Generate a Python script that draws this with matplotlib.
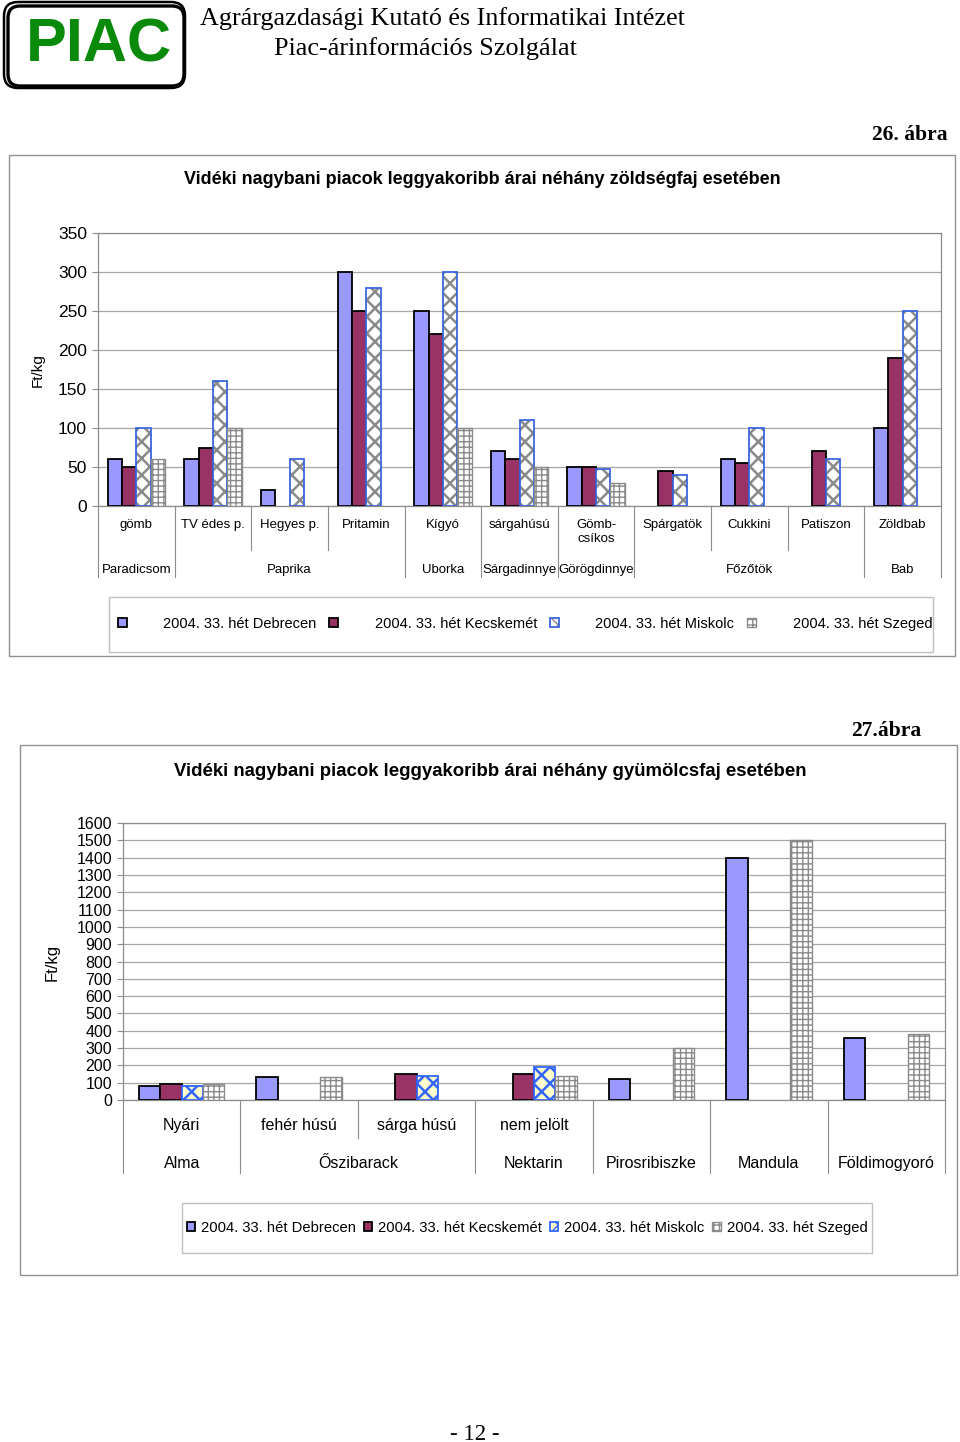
import numpy as np
import matplotlib
matplotlib.use("Agg")
import matplotlib.pyplot as plt
from matplotlib.patches import Rectangle, FancyBboxPatch
from matplotlib.transforms import blended_transform_factory

plt.rcParams['font.family'] = ['Liberation Sans', 'DejaVu Sans']
nan = np.nan

# --- 26. ábra: zöldségek ---
veg_sub = ['gömb', 'TV édes p.', 'Hegyes p.', 'Pritamin', 'Kígyó', 'sárgahúsú',
           'Gömb-\ncsíkos', 'Spárgatök', 'Cukkini', 'Patiszon', 'Zöldbab']
veg_group_names = ['Paradicsom', 'Paprika', 'Uborka', 'Sárgadinnye', 'Görögdinnye', 'Főzőtök', 'Bab']
veg_group_sizes = [1, 3, 1, 1, 1, 3, 1]
veg_debrecen = [60, 60, 20, 300, 250, 70, 50, nan, 60, nan, 100]
veg_kecskemet = [50, 75, nan, 250, 220, 60, 50, 45, 55, 70, 190]
veg_miskolc = [100, 160, 60, 280, 300, 110, 48, 40, 100, 60, 250]
veg_szeged = [60, 100, nan, nan, 100, 50, 30, nan, nan, nan, nan]
veg_yticks = [0, 50, 100, 150, 200, 250, 300, 350]

# --- 27. ábra: gyümölcsök ---
fruit_sub = ['Nyári', 'fehér húsú', 'sárga húsú', 'nem jelölt', '', '', '']
fruit_group_names = ['Alma', 'Őszibarack', 'Nektarin', 'Pirosribiszke', 'Mandula', 'Földimogyoró']
fruit_group_sizes = [1, 2, 1, 1, 1, 1]
fruit_debrecen = [80, 130, nan, nan, 120, 1400, 360]
fruit_kecskemet = [95, nan, 150, 150, nan, nan, nan]
fruit_miskolc = [80, nan, 140, 190, nan, nan, nan]
fruit_szeged = [90, 130, nan, 140, 300, 1500, 380]
fruit_yticks = list(range(0, 1700, 100))

series_names = ['2004. 33. hét Debrecen', '2004. 33. hét Kecskemét',
                '2004. 33. hét Miskolc', '2004. 33. hét Szeged']

W, H = 960, 1442
GRID = '#A6A6A6'
AXC = '#8C8C8C'


def px_axes(fig, left, top, right, bottom):
    return fig.add_axes([left / W, 1 - bottom / H, (right - left) / W, (bottom - top) / H])


def hatched_bar(ax, pos, vals, w, st):
    # fill + hatch first, then the outline in its own colour
    with plt.rc_context({'hatch.linewidth': st.get('hlw', 1.0)}):
        b1 = ax.bar(pos, vals, w, color=st['face'], edgecolor=st['hatchcolor'],
                    hatch=st['hatch'], linewidth=0, zorder=3)
        for p in b1:
            if hasattr(p, 'set_hatch_linewidth'):
                p.set_hatch_linewidth(st.get('hlw', 1.0))
    b2 = ax.bar(pos, vals, w, fill=False, edgecolor=st['edge'],
                linewidth=st['lw'], zorder=4)
    return b1, b2


def draw_chart(ax, series, styles, sub, group_sizes, group_names, yticks,
               gapfrac, tick_fs, label_fs, sub_y, grp_y, short_depth, long_depth):
    n = len(sub)
    w = 1.0 / (4 + gapfrac)
    x = np.arange(n)
    handles = []
    for i, (vals, st) in enumerate(zip(series, styles)):
        pos = x + (i - 1.5) * w
        vals = np.array(vals, dtype=float)
        if st.get('hatch'):
            handles.append(hatched_bar(ax, pos, vals, w, st))
        else:
            b = ax.bar(pos, vals, w, color=st['face'], edgecolor=st['edge'],
                       linewidth=st['lw'], zorder=3)
            handles.append(b)

    ax.set_xlim(-0.5, n - 0.5)
    ax.set_ylim(yticks[0], yticks[-1])
    ax.set_yticks(yticks)
    ax.set_xticks([])
    ax.grid(axis='y', color=GRID, linewidth=0.9, zorder=0)
    ax.set_axisbelow(True)
    for s in ax.spines.values():
        s.set_color(AXC)
        s.set_linewidth(0.9)
    ax.tick_params(axis='y', length=4, width=0.8, color=AXC, labelsize=tick_fs, pad=4)

    tr = blended_transform_factory(ax.transData, ax.transAxes)
    bounds = np.concatenate([[0], np.cumsum(group_sizes)])
    for b in range(n + 1):
        depth = long_depth if b in bounds else short_depth
        ax.plot([b - 0.5, b - 0.5], [0, -depth], transform=tr, clip_on=False,
                color=AXC, linewidth=0.8)
    for i, lab in enumerate(sub):
        if lab:
            ax.text(i, sub_y, lab, transform=tr, ha='center', va='top',
                    fontsize=label_fs, linespacing=1.25)
    for gi, name in enumerate(group_names):
        c = (bounds[gi] + bounds[gi + 1] - 1) / 2
        ax.text(c, grp_y, name, transform=tr, ha='center', va='center', fontsize=label_fs)
    return handles


fig = plt.figure(figsize=(W / 100, H / 100), dpi=100)
fig.patch.set_facecolor('white')

# overlay in pixel coordinates
ov = fig.add_axes([0, 0, 1, 1])
ov.set_xlim(0, W)
ov.set_ylim(H, 0)
ov.axis('off')
ov.patch.set_alpha(0)

# header logo
ov.add_patch(FancyBboxPatch((8, 6), 176, 80, boxstyle='round,pad=0,rounding_size=12',
                            fill=False, edgecolor='black', linewidth=2.4))
ov.add_patch(FancyBboxPatch((4, 2), 181, 86, boxstyle='round,pad=0,rounding_size=14',
                            fill=False, edgecolor='black', linewidth=1.8))
ov.text(99, 46, 'PIAC', color='#0A8A0A', fontsize=44, fontweight='bold',
        ha='center', va='center', family='Liberation Sans')
ov.text(200, 19, 'Agrárgazdasági Kutató és Informatikai Intézet', fontsize=18.8,
        family='Liberation Serif', ha='left', va='center')
ov.text(425, 49, 'Piac-árinformációs Szolgálat', fontsize=18.8,
        family='Liberation Serif', ha='center', va='center')

# chart frames
ov.add_patch(Rectangle((9, 155), 946, 501, fill=False, edgecolor='#909090', linewidth=1))
ov.add_patch(Rectangle((20, 745), 937, 530, fill=False, edgecolor='#909090', linewidth=1))
ov.add_patch(Rectangle((109, 597), 824, 55, fill=False, edgecolor='#C0C0C0', linewidth=1))
ov.add_patch(Rectangle((182, 1203), 690, 50, fill=False, edgecolor='#C0C0C0', linewidth=1))

ov.text(910, 135, '26. ábra', fontsize=15.5, fontweight='bold', family='Liberation Serif',
        ha='center', va='center')
ov.text(886, 731, '27.ábra', fontsize=15.5, fontweight='bold', family='Liberation Serif',
        ha='center', va='center')
ov.text(482, 180, 'Vidéki nagybani piacok leggyakoribb árai néhány zöldségfaj esetében',
        fontsize=13, fontweight='bold', ha='center', va='center')
ov.text(490, 771, 'Vidéki nagybani piacok leggyakoribb árai néhány gyümölcsfaj esetében',
        fontsize=13.4, fontweight='bold', ha='center', va='center')
ov.text(38, 370, 'Ft/kg', rotation=90, fontsize=11, ha='center', va='center')
ov.text(52, 962, 'Ft/kg', rotation=90, fontsize=12, ha='center', va='center')
ov.text(475, 1434, '- 12 -', fontsize=16.5, family='Liberation Serif', ha='center', va='center')

ax1 = px_axes(fig, 98, 233, 941, 506)
ax2 = px_axes(fig, 123, 823, 945, 1100)

styles1 = [
    dict(face='#9999FF', edge='black', lw=1.3),
    dict(face='#993366', edge='black', lw=1.3),
    dict(face='white', hatch='xx', hatchcolor='#8A8A8A', hlw=1.8, edge='#3A66DD', lw=1.3),
    dict(face='white', hatch='+++', hatchcolor='#8A8A8A', hlw=1.0, edge='#8A8A8A', lw=1.0),
]
styles2 = [
    dict(face='#9999FF', edge='black', lw=1.3),
    dict(face='#993366', edge='black', lw=1.3),
    dict(face='#FFFFCC', hatch='xx', hatchcolor='#3366FF', hlw=1.8, edge='#3366FF', lw=1.3),
    dict(face='white', hatch='+++', hatchcolor='#8A8A8A', hlw=1.0, edge='#8A8A8A', lw=1.0),
]

h1 = draw_chart(ax1, [veg_debrecen, veg_kecskemet, veg_miskolc, veg_szeged], styles1,
                veg_sub, veg_group_sizes, veg_group_names, veg_yticks,
                gapfrac=1.35, tick_fs=12.5, label_fs=9.5, sub_y=-0.048, grp_y=-0.235,
                short_depth=0.161, long_depth=0.26)
h2 = draw_chart(ax2, [fruit_debrecen, fruit_kecskemet, fruit_miskolc, fruit_szeged], styles2,
                fruit_sub, fruit_group_sizes, fruit_group_names, fruit_yticks,
                gapfrac=1.5, tick_fs=11.5, label_fs=11.5, sub_y=-0.064, grp_y=-0.23,
                short_depth=0.137, long_depth=0.264)

fig.legend(h1, series_names, loc='center', bbox_to_anchor=(525, 624),
           bbox_transform=ov.transData, ncol=4, frameon=False, fontsize=10.5,
           handlelength=0.6, handleheight=0.6, handletextpad=2.5, columnspacing=0.9)
fig.legend(h2, series_names, loc='center', bbox_to_anchor=(527, 1228),
           bbox_transform=ov.transData, ncol=4, frameon=False, fontsize=10.6,
           handlelength=0.6, handleheight=0.6, handletextpad=0.4, columnspacing=0.5)

fig.savefig('out.png', dpi=100, facecolor='white')
